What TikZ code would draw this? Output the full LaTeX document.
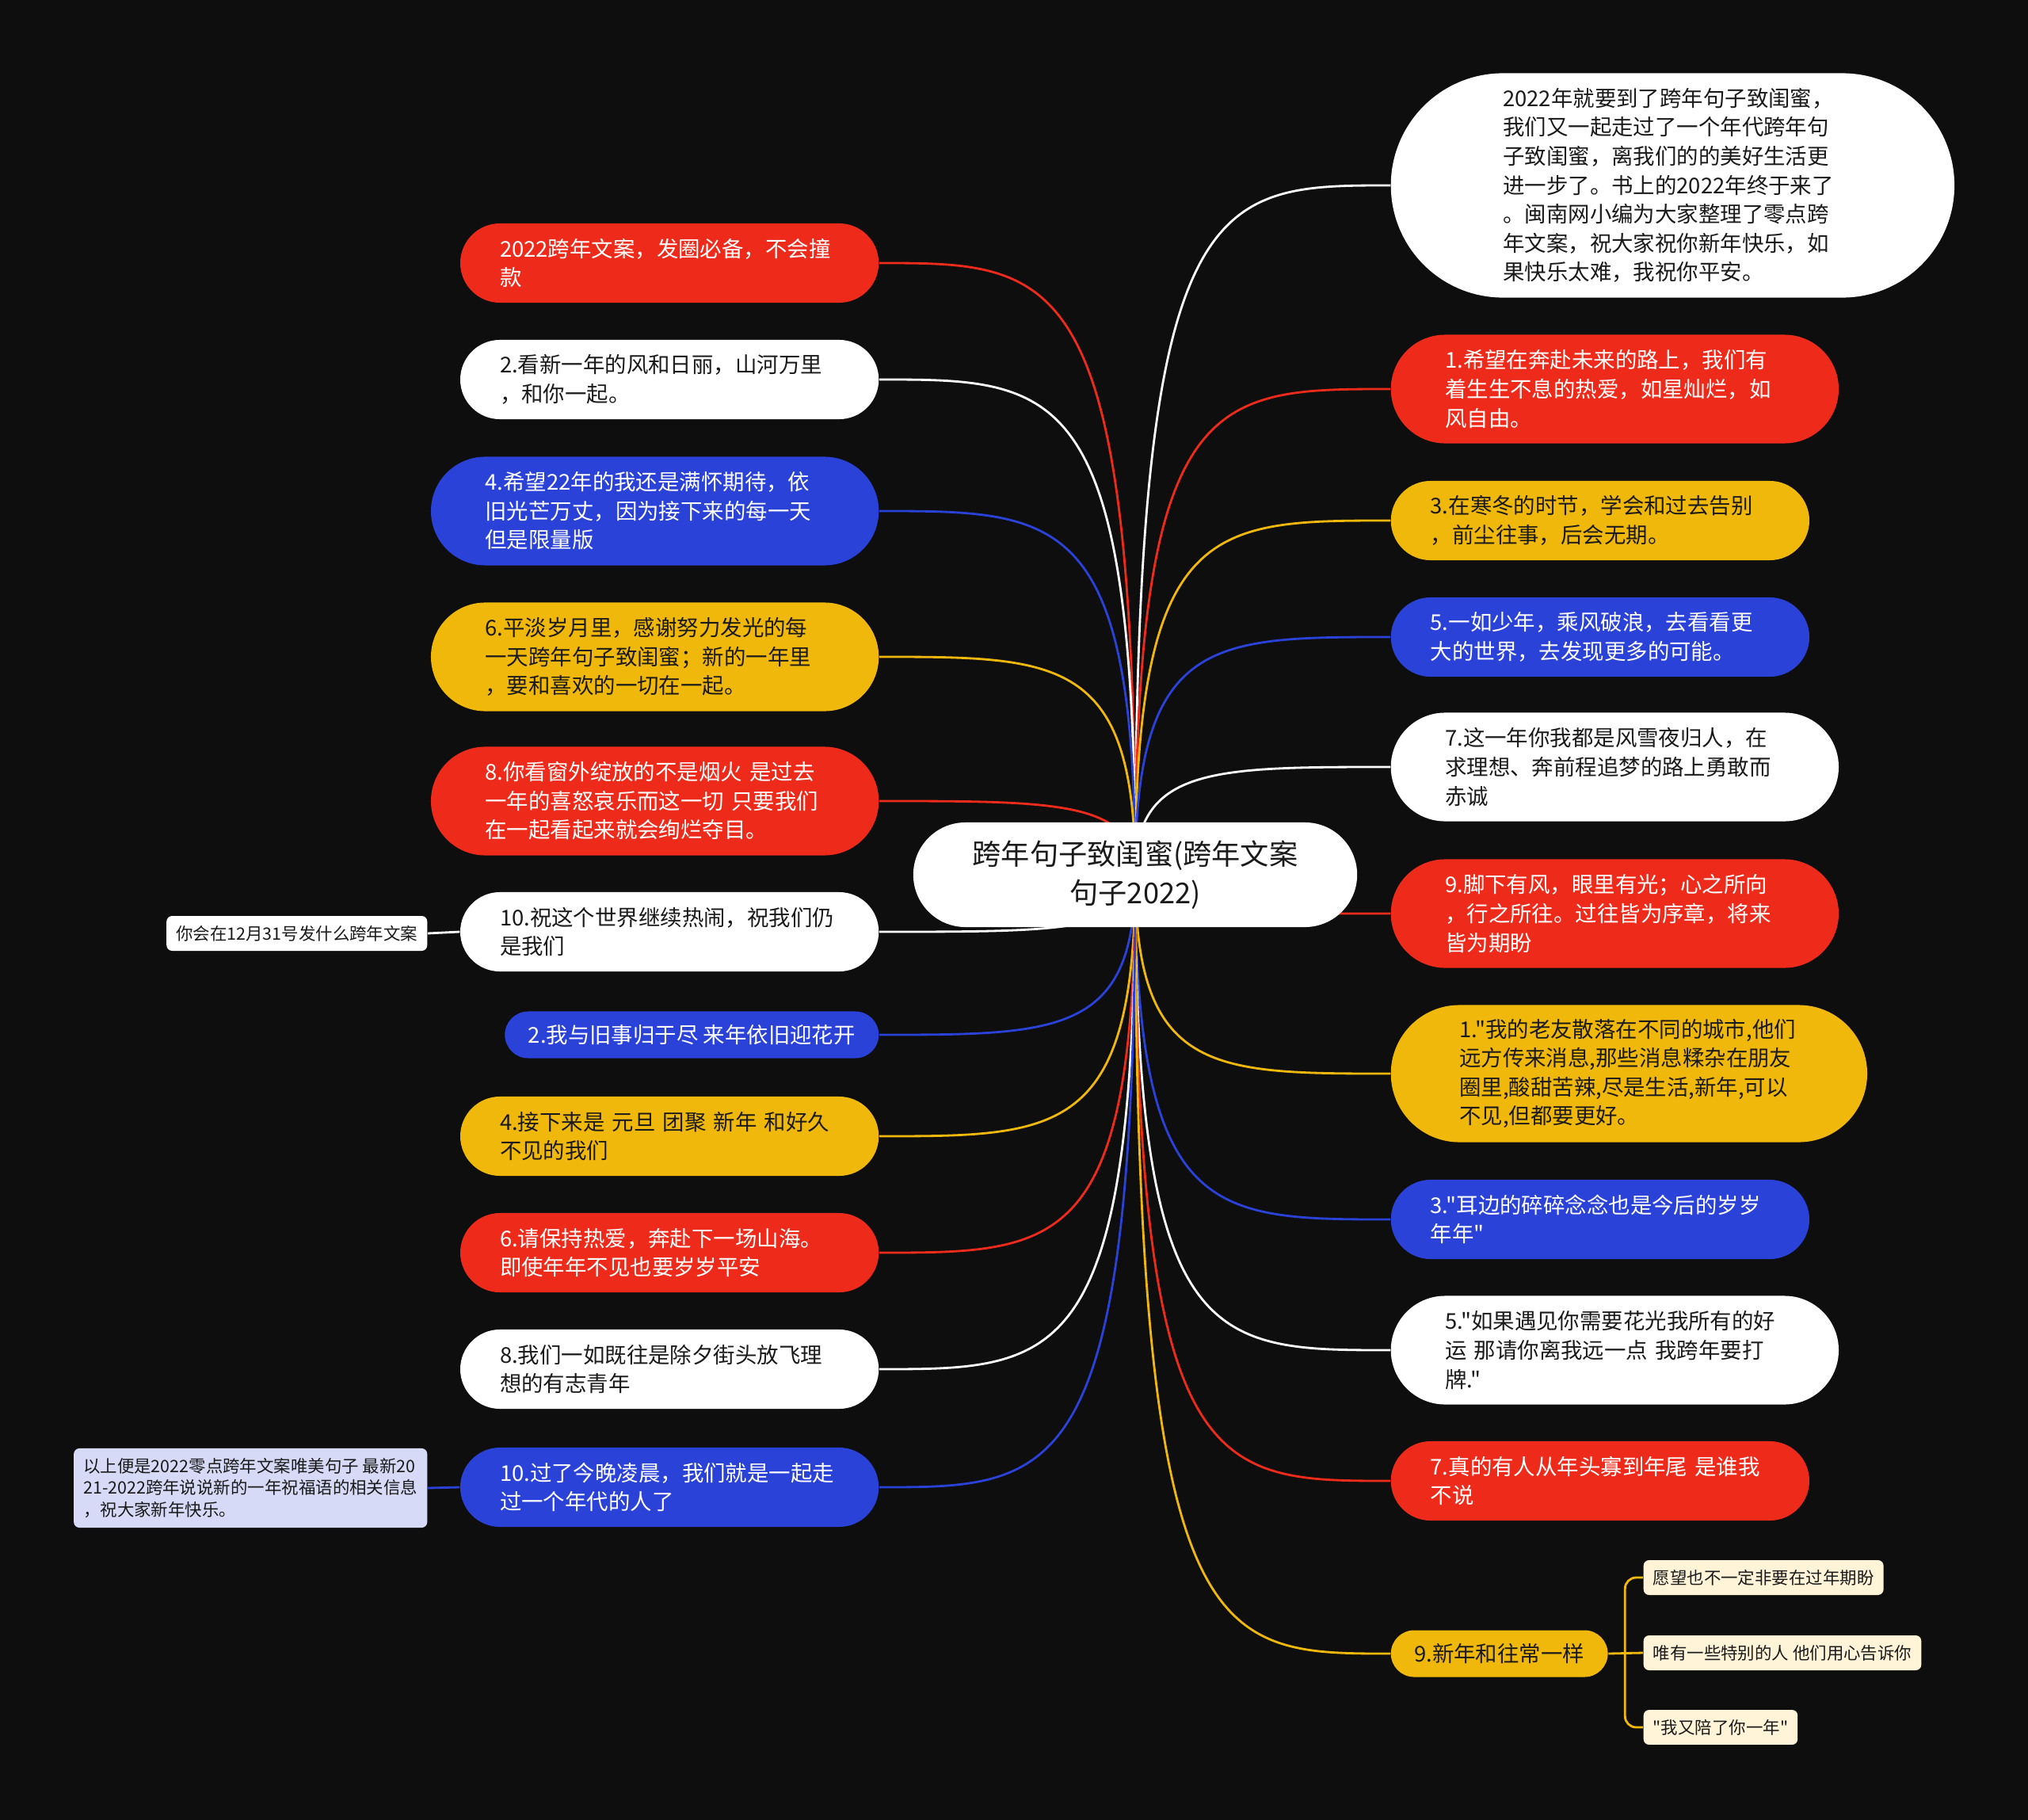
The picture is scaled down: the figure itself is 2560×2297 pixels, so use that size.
\documentclass[tikz,border=0pt]{standalone}
\usepackage{fontspec}
\newfontfamily\cjk{Noto Sans CJK SC}
\usetikzlibrary{calc,backgrounds}

\definecolor{bgdark}{HTML}{0E0E0E}
\definecolor{mred}{HTML}{EE2B1B}
\definecolor{myellow}{HTML}{F1B80C}
\definecolor{mblue}{HTML}{2A42D8}
\definecolor{mcream}{HTML}{FFF4D8}
\definecolor{mlav}{HTML}{D6DAF6}
\definecolor{ink}{HTML}{1A1A1A}

\tikzset{
  pill/.style={rectangle, rounded corners=#1, minimum height=2*#1, inner xsep=#1,
    inner ysep=0.08cm, align=left, font=\cjk\fontsize{7.8}{10.4}\selectfont},
  para/.style={text width=4.28cm},
  h1/.style={pill=0.295cm},
  h2/.style={pill=0.5cm, para},
  h3/.style={pill=0.685cm, para},
  h4/.style={pill=0.865cm, para},
  h7/.style={pill=1.415cm, para},
  redb/.style={fill=mred, text=white},
  yelb/.style={fill=myellow, text=ink},
  blub/.style={fill=mblue, text=white},
  whib/.style={fill=white, text=ink},
  leaf/.style={rectangle, rounded corners=2pt, inner xsep=0.12cm, inner ysep=0.12cm,
    align=left, text=ink, font=\cjk\fontsize{6.1}{7.9}\selectfont},
  edge/.style={line width=0.8pt},
}

\begin{document}
\begin{tikzpicture}[x=0.01cm, y=-0.01cm]
% root
\node[pill=0.66cm, para, whib, align=center, font=\cjk\fontsize{10.3}{14}\selectfont]
  (ctr) at (1433,1104) {跨年句子致闺蜜(跨年文案\\句子2022)};

% right side
\node[h7, whib, anchor=west] (r1) at (1755,234) {2022年就要到了跨年句子致闺蜜，\\我们又一起走过了一个年代跨年句\\子致闺蜜，离我们的的美好生活更\\进一步了。书上的2022年终于来了\\。闽南网小编为大家整理了零点跨\\年文案，祝大家祝你新年快乐，如\\果快乐太难，我祝你平安。};
\node[h3, redb, anchor=west] (r2) at (1755,491) {1.希望在奔赴未来的路上，我们有\\着生生不息的热爱，如星灿烂，如\\风自由。};
\node[h2, yelb, anchor=west] (r3) at (1755,657) {3.在寒冬的时节，学会和过去告别\\，前尘往事，后会无期。};
\node[h2, blub, anchor=west] (r4) at (1755,804) {5.一如少年，乘风破浪，去看看更\\大的世界，去发现更多的可能。};
\node[h3, whib, anchor=west] (r5) at (1755,968) {7.这一年你我都是风雪夜归人，在\\求理想、奔前程追梦的路上勇敢而\\赤诚};
\node[h3, redb, anchor=west] (r6) at (1755,1153) {9.脚下有风，眼里有光；心之所向\\，行之所往。过往皆为序章，将来\\皆为期盼};
\node[h4, yelb, anchor=west] (r7) at (1755,1355) {1."我的老友散落在不同的城市,他们\\远方传来消息,那些消息糅杂在朋友\\圈里,酸甜苦辣,尽是生活,新年,可以\\不见,但都要更好。};
\node[h2, blub, anchor=west] (r8) at (1755,1539) {3."耳边的碎碎念念也是今后的岁岁\\年年"};
\node[h3, whib, anchor=west] (r9) at (1755,1704) {5."如果遇见你需要花光我所有的好\\运 那请你离我远一点 我跨年要打\\牌."};
\node[h2, redb, anchor=west] (r10) at (1755,1869) {7.真的有人从年头寡到年尾 是谁我\\不说};
\node[h1, yelb, anchor=west] (r11) at (1755,2087) {9.新年和往常一样};
\node[leaf, fill=mcream, anchor=west] (c1) at (2074,1991) {愿望也不一定非要在过年期盼};
\node[leaf, fill=mcream, anchor=west] (c2) at (2074,2086) {唯有一些特别的人 他们用心告诉你};
\node[leaf, fill=mcream, anchor=west] (c3) at (2074,2180) {"我又陪了你一年"};
\coordinate (fork) at ($(r11.east)+(21,0)$);

% left side
\node[h2, redb, anchor=east] (l1) at (1110,332) {2022跨年文案，发圈必备，不会撞\\款};
\node[h2, whib, anchor=east] (l2) at (1110,479) {2.看新一年的风和日丽，山河万里\\，和你一起。};
\node[h3, blub, anchor=east] (l3) at (1110,645) {4.希望22年的我还是满怀期待，依\\旧光芒万丈，因为接下来的每一天\\但是限量版};
\node[h3, yelb, anchor=east] (l4) at (1110,829) {6.平淡岁月里，感谢努力发光的每\\一天跨年句子致闺蜜；新的一年里\\，要和喜欢的一切在一起。};
\node[h3, redb, anchor=east] (l5) at (1110,1011) {8.你看窗外绽放的不是烟火 是过去\\一年的喜怒哀乐而这一切 只要我们\\在一起看起来就会绚烂夺目。};
\node[h2, whib, anchor=east] (l6) at (1110,1176) {10.祝这个世界继续热闹，祝我们仍\\是我们};
\node[h1, blub, anchor=east] (l7) at (1110,1306) {2.我与旧事归于尽 来年依旧迎花开};
\node[h2, yelb, anchor=east] (l8) at (1110,1434) {4.接下来是 元旦 团聚 新年 和好久\\不见的我们};
\node[h2, redb, anchor=east] (l9) at (1110,1581) {6.请保持热爱，奔赴下一场山海。\\即使年年不见也要岁岁平安};
\node[h2, whib, anchor=east] (l10) at (1110,1728) {8.我们一如既往是除夕街头放飞理\\想的有志青年};
\node[h2, blub, anchor=east] (l11) at (1110,1877) {10.过了今晚凌晨，我们就是一起走\\过一个年代的人了};
\node[leaf, fill=white, anchor=east] (l6leaf) at (540,1178) {你会在12月31号发什么跨年文案};
\node[leaf, fill=mlav, anchor=east] (l11leaf) at (540,1878) {以上便是2022零点跨年文案唯美句子 最新20\\21-2022跨年说说新的一年祝福语的相关信息\\，祝大家新年快乐。};

\begin{pgfonlayer}{background}
\fill[bgdark] (0,0) rectangle (2560,2297);
% curves out of the root
\foreach \n/\c in {r1/white,r2/mred,r3/myellow,r4/mblue,r5/white,r6/mred,r7/myellow,r8/mblue,r9/white,r10/mred,r11/myellow}
  \draw[edge,\c] (ctr.center) .. controls (ctr.center |- \n.west) and ($(ctr.center |- \n.west)!0.3!(\n.west)$) .. (\n.west);
\foreach \n/\c in {l1/mred,l2/white,l3/mblue,l4/myellow,l5/mred,l6/white,l7/mblue,l8/myellow,l9/mred,l10/white,l11/mblue}
  \draw[edge,\c] (ctr.center) .. controls (ctr.center |- \n.east) and ($(ctr.center |- \n.east)!0.3!(\n.east)$) .. (\n.east);
% leaves
\draw[edge,white] (l6.west) -- (l6leaf.east);
\draw[edge,mblue] (l11.west) -- (l11leaf.east);
\draw[edge,myellow] (r11.east) -- (c2.west);
\draw[edge,myellow,rounded corners=0.14cm] (c1.west) -| (fork) |- (c3.west);
\end{pgfonlayer}
\end{tikzpicture}
\end{document}
